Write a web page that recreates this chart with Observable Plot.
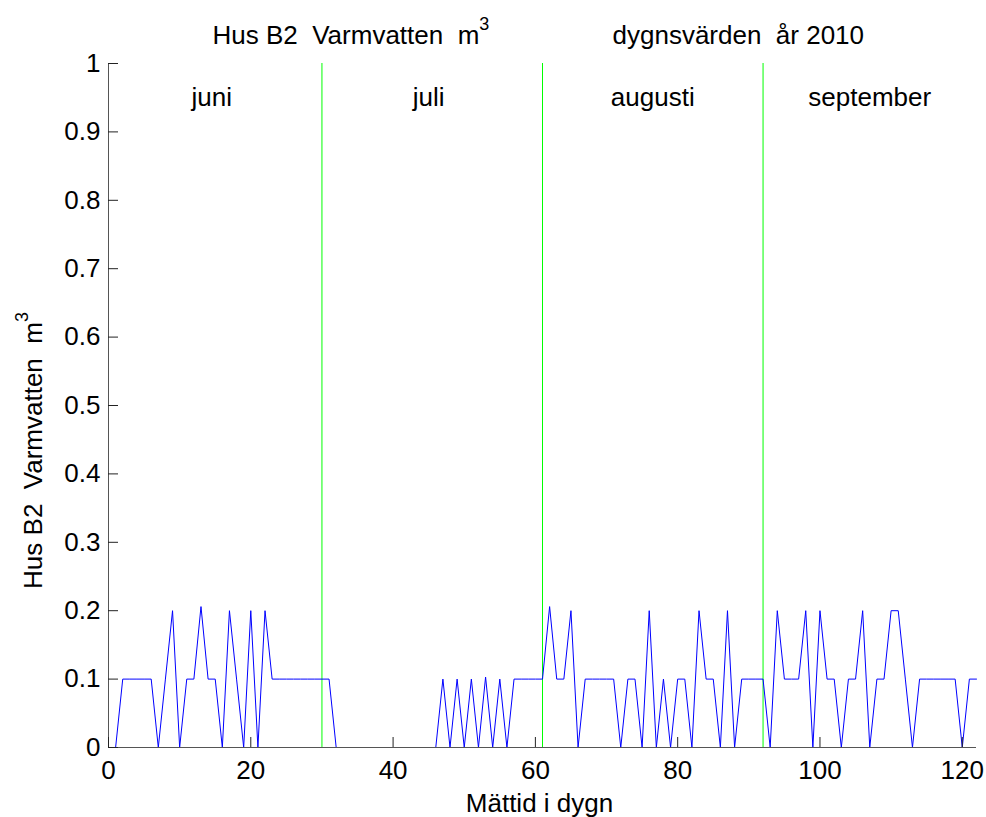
<!DOCTYPE html>
<html><head><meta charset="utf-8">
<script src="https://cdn.jsdelivr.net/npm/d3@7"></script>
<script src="https://cdn.jsdelivr.net/npm/@observablehq/plot@0.6"></script>
<style>
body{margin:0;background:#fff}
svg text{white-space:pre}
</style>
</head><body><div id="chart"></div>
<script>
// daily hot-water values (m³), days 1..122 (June–September 2010)
const values = [
  0, 0.1, 0.1, 0.1, 0.1, 0.1, 0, 0.1, 0.2, 0,
  0.1, 0.1, 0.206, 0.1, 0.1, 0, 0.2, 0.1, 0, 0.2,
  0, 0.2, 0.1, 0.1, 0.1, 0.1, 0.1, 0.1, 0.1, 0.1,
  0.1, 0, 0, 0, 0, 0, 0, 0, 0, 0,
  0, 0, 0, 0, 0, 0, 0.1, 0, 0.1, 0,
  0.1, 0, 0.103, 0, 0.1, 0, 0.1, 0.1, 0.1, 0.1,
  0.1, 0.206, 0.1, 0.1, 0.2, 0, 0.1, 0.1, 0.1, 0.1,
  0.1, 0, 0.1, 0.1, 0, 0.2, 0, 0.1, 0, 0.1,
  0.1, 0, 0.2, 0.1, 0.1, 0, 0.2, 0, 0.1, 0.1,
  0.1, 0.1, 0, 0.2, 0.1, 0.1, 0.1, 0.2, 0, 0.2,
  0.1, 0.1, 0, 0.1, 0.1, 0.2, 0, 0.1, 0.1, 0.2,
  0.2, 0.1, 0, 0.1, 0.1, 0.1, 0.1, 0.1, 0.1, 0,
  0.1, 0.1
];
const monthStarts = [30, 61, 92];
const monthNames = ["juni", "juli", "augusti", "september"];
const monthCenters = [14.5, 45, 76.5, 107];
const monthLabelY = [0.95, 0.95, 0.95, 0.95];
const xTicks = [0, 20, 40, 60, 80, 100, 120];
const yTicks = [0, 0.1, 0.2, 0.3, 0.4, 0.5, 0.6, 0.7, 0.8, 0.9, 1];
const yTickLabels = ["0", "0.1", "0.2", "0.3", "0.4", "0.5", "0.6", "0.7", "0.8", "0.9", "1"];
const titleLeft = "Hus B2  Varmvatten  m³";
const titleRight = "dygnsvärden  år 2010";
const xLabel = "Mättid i dygn";
const yLabel = "Hus B2  Varmvatten  m³";

const W = 986, H = 817, mL = 108, mR = 10, mT = 63, mB = 70;
const frameW = W - mL - mR, frameH = H - mT - mB;
const axisColor = "#555";

const chart = Plot.plot({
  width: W, height: H,
  marginLeft: mL, marginRight: mR, marginTop: mT, marginBottom: mB,
  style: {fontFamily: "'Liberation Sans', Arial, sans-serif", fontSize: "26px", background: "#fff", color: "#000", overflow: "visible"},
  x: {domain: [0, 122]},
  y: {domain: [0, 1]},
  marks: [
    Plot.ruleX(monthStarts, {stroke: "#00ff00", strokeWidth: 1}),
    Plot.line(values, {x: (d, i) => i + 1, y: d => d, stroke: "#0000ff", strokeWidth: 1}),
    Plot.ruleY([0], {stroke: axisColor}),
    Plot.ruleX([0], {stroke: axisColor}),
    Plot.tickX(xTicks, {x: d => d, insetTop: frameH - 10, stroke: "#222"}),
    Plot.tickY(yTicks, {y: d => d, insetRight: frameW - 10, stroke: "#222"}),
    Plot.axisX({ticks: xTicks, tickSize: 0, tickPadding: 13, label: null, tickFormat: d => String(d)}),
    Plot.axisY({ticks: yTicks, tickSize: 0, tickPadding: 8, label: null, tickFormat: d => yTickLabels[yTicks.indexOf(d)]}),
    Plot.text(monthNames, {x: (d, i) => monthCenters[i], y: (d, i) => monthLabelY[i], text: d => d, textAnchor: "middle", lineAnchor: "middle", fill: "#000"}),
    Plot.text([titleLeft], {frameAnchor: "top-left", textAnchor: "start", lineAnchor: "bottom", dx: 104, dy: -20, fill: "#000"}),
    Plot.text([titleRight], {frameAnchor: "top-left", textAnchor: "start", lineAnchor: "bottom", dx: 504, dy: -20, fill: "#000"}),
    Plot.text([xLabel], {frameAnchor: "bottom", textAnchor: "middle", lineAnchor: "top", dx: -3, dy: 46, fill: "#000"}),
    Plot.text([yLabel], {frameAnchor: "left", textAnchor: "middle", lineAnchor: "middle", rotate: -90, dx: -75, dy: 45, fill: "#000"})
  ]
});

// render "³" as a raised, smaller "3" like the original superscript
(function superscripts(svg) {
  const walker = document.createTreeWalker(svg, NodeFilter.SHOW_TEXT);
  const nodes = [];
  while (walker.nextNode()) nodes.push(walker.currentNode);
  for (const n of nodes) {
    const idx = n.nodeValue.indexOf("³");
    if (idx < 0) continue;
    const after = n.nodeValue.slice(idx + 1);
    n.nodeValue = n.nodeValue.slice(0, idx);
    const ts = document.createElementNS("http://www.w3.org/2000/svg", "tspan");
    ts.setAttribute("dy", "-14");
    ts.setAttribute("font-size", "18px");
    ts.textContent = "3" + after;
    n.parentNode.insertBefore(ts, n.nextSibling);
  }
})(chart);

document.getElementById("chart").appendChild(chart);
</script>
</body></html>
